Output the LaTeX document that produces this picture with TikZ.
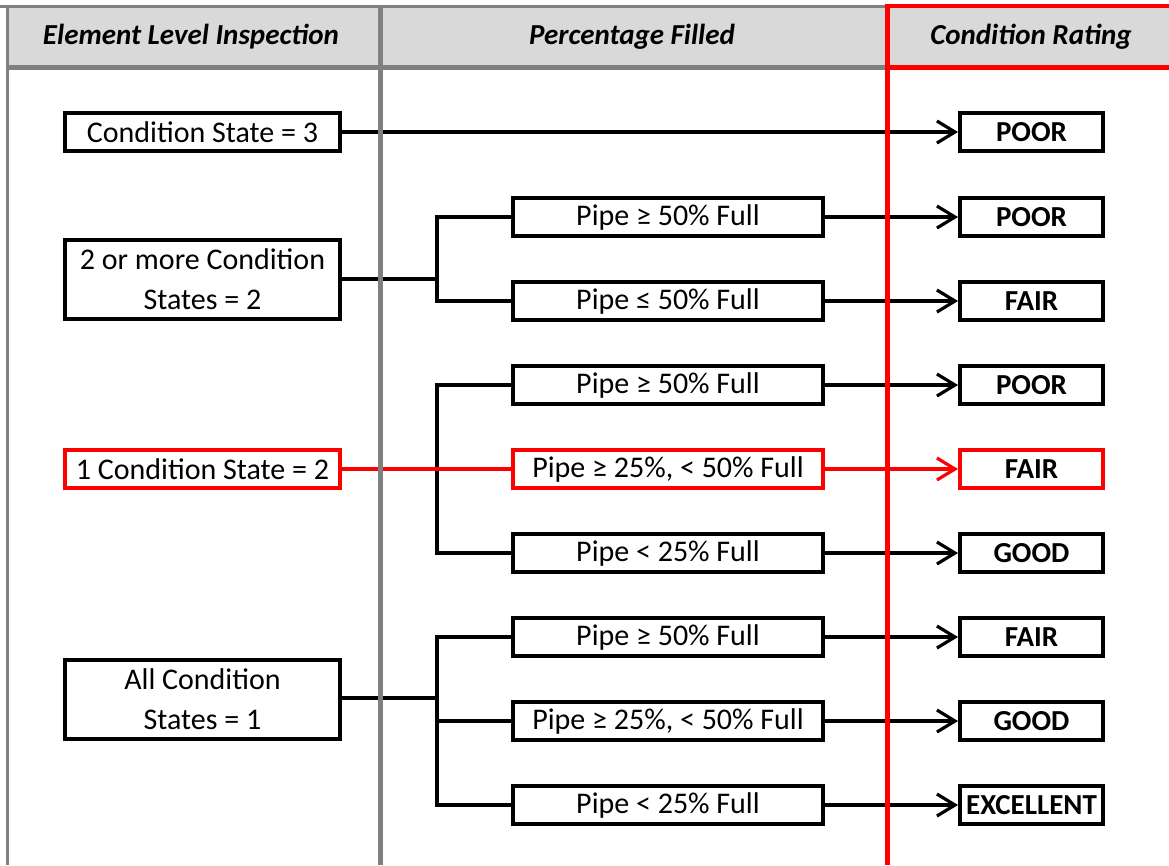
\documentclass[tikz,border=0pt]{standalone}
\usepackage{fontspec}
\setmainfont{Carlito}
\usetikzlibrary{arrows.meta}
\definecolor{hdrfill}{HTML}{D9D9D9}
\definecolor{rulegray}{HTML}{808080}
\definecolor{hot}{HTML}{FF0000}
\begin{document}
\begin{tikzpicture}[x=1pt,y=-1pt,
  hdr/.style={font=\fontsize{29}{34}\selectfont\bfseries\itshape, inner sep=0pt},
  box/.style={draw, line width=4pt, inner sep=0pt, minimum height=38pt,
    font=\fontsize{30}{40}\selectfont, align=center},
  lbox/.style={box, minimum width=275pt},
  mbox/.style={box, minimum width=310pt},
  rbox/.style={box, minimum width=143pt, font=\fontsize{29}{40}\selectfont\bfseries},
  link/.style={line width=3.2pt, line join=miter},
  arr/.style={link, -{Straight Barb[length=18pt,width=22pt,line width=3.2pt]}},
  grule/.style={draw=rulegray, line width=#1},
  rrule/.style={draw=hot, line width=#1}]
\useasboundingbox (0,0) rectangle (1169,865);

% header band
\fill[hdrfill] (7,6) rectangle (1169,67);
\node[hdr] (h1) at (191,37) {Element Level Inspection};
\node[hdr] (h2) at (632,37) {Percentage Filled};
\node[hdr] (h3) at (1031,37) {Condition Rating};

% inspection results
\node[lbox] (c3) at (202.5,132) {Condition State = 3};
\node[lbox, minimum height=79pt] (c2m) at (202.5,279) {2 or more Condition\\States = 2};
\node[lbox, draw=hot] (c21) at (202.5,469) {1 Condition State = 2};
\node[lbox, minimum height=79pt] (c1) at (202.5,699) {All Condition\\States = 1};

% fill levels
\node[mbox] (m1) at (668,217) {Pipe ≥ 50\% Full};
\node[mbox] (m2) at (668,301) {Pipe ≤ 50\% Full};
\node[mbox] (m3) at (668,385) {Pipe ≥ 50\% Full};
\node[mbox, draw=hot] (m4) at (668,469) {Pipe ≥ 25\%, < 50\% Full};
\node[mbox] (m5) at (668,553) {Pipe < 25\% Full};
\node[mbox] (m6) at (668,637) {Pipe ≥ 50\% Full};
\node[mbox] (m7) at (668,721) {Pipe ≥ 25\%, < 50\% Full};
\node[mbox] (m8) at (668,805) {Pipe < 25\% Full};

% ratings
\node[rbox] (r0) at (1031.5,132) {POOR};
\node[rbox] (r1) at (1031.5,217) {POOR};
\node[rbox] (r2) at (1031.5,301) {FAIR};
\node[rbox] (r3) at (1031.5,385) {POOR};
\node[rbox, draw=hot] (r4) at (1031.5,469) {FAIR};
\node[rbox] (r5) at (1031.5,553) {GOOD};
\node[rbox] (r6) at (1031.5,637) {FAIR};
\node[rbox] (r7) at (1031.5,721) {GOOD};
\node[rbox] (r8) at (1031.5,805) {EXCELLENT};

% branch points
\coordinate (b2) at (437,279);
\coordinate (b3) at (437,469);
\coordinate (b4) at (437,698);

% connectors
\draw[arr] (c3.east) -- (r0.west);

\draw[link] (c2m.east |- b2) -- (b2);
\draw[link] (m1.west) -| (b2) |- (m2.west);

\draw[link] (m3.west) -| (b3) |- (m5.west);
\draw[link, draw=hot] (c21.east) -- (m4.west);

\draw[link] (c1.east |- b4) -- (b4);
\draw[link] (m6.west) -| (b4) |- (m8.west);
\draw[link] (m7.west -| b4) -- (m7.west);

\draw[arr] (m1.east) -- (r1.west);
\draw[arr] (m2.east) -- (r2.west);
\draw[arr] (m3.east) -- (r3.west);
\draw[arr, draw=hot] (m4.east) -- (r4.west);
\draw[arr] (m5.east) -- (r5.west);
\draw[arr] (m6.east) -- (r6.west);
\draw[arr] (m7.east) -- (r7.west);
\draw[arr] (m8.east) -- (r8.west);

% column rules
\draw[grule=3pt] (0,6) -- (887,6);
\draw[grule=3pt] (7,6) -- (7,865);
\draw[grule=5pt] (7,67) -- (887,67);
\draw[grule=5pt] (380.5,6) -- (380.5,865);
\draw[rrule=4pt] (887,6) -- (1169,6);
\draw[rrule=5pt] (887,67) -- (1169,67);
\draw[rrule=5pt] (887,4) -- (887,865);
\end{tikzpicture}
\end{document}
